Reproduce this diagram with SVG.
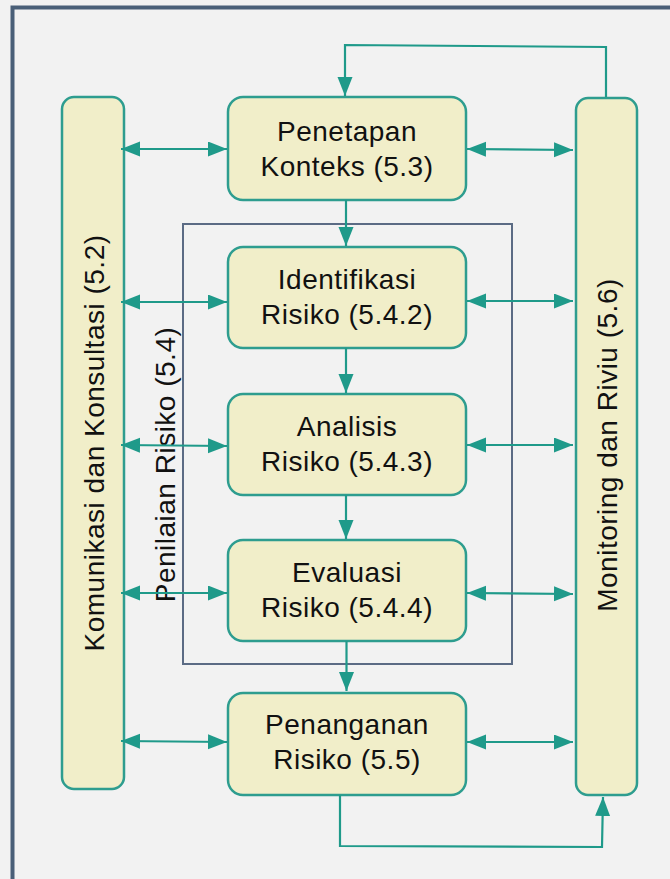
<svg xmlns="http://www.w3.org/2000/svg" width="670" height="879" viewBox="0 0 670 879">
<defs>
<marker id="ah" markerUnits="userSpaceOnUse" markerWidth="20" markerHeight="16" refX="19" refY="7.5" orient="auto-start-reverse" viewBox="0 0 20 16">
<path d="M0,0 L19,7.5 L0,15 z" fill="#1f9a8a"/>
</marker>
</defs>
<style>
.box{fill:#f1eec9;stroke:#2e9d8f;stroke-width:2.5}
.lbl{font-family:"Liberation Sans",Arial,sans-serif;font-size:28px;fill:#111;text-anchor:middle;letter-spacing:0.5px}
.c{fill:none;stroke:#1f9a8a;stroke-width:2.2}
.ca{fill:none;stroke:#1f9a8a;stroke-width:2.2;marker-end:url(#ah)}
.cb{fill:none;stroke:#1f9a8a;stroke-width:2.2;marker-start:url(#ah);marker-end:url(#ah)}
</style>
<rect x="0" y="0" width="670" height="879" fill="#f2f2f2"/>
<path d="M12.5,879 L12.5,7.5 L670,7.5" fill="none" stroke="#4a5f78" stroke-width="4"/>

<g id="penilaian">
<rect x="183" y="224" width="329" height="440" fill="none" stroke="#5b6b84" stroke-width="2"/>
</g>

<g id="komunikasi">
<rect class="box" x="62" y="97" width="62" height="692" rx="12"/>
<text class="lbl" transform="translate(104,443) rotate(-90)">Komunikasi dan Konsultasi (5.2)</text>
</g>

<g id="monitoring">
<rect class="box" x="576" y="98" width="61" height="697" rx="12"/>
<text class="lbl" transform="translate(617,445) rotate(-90)">Monitoring dan Riviu (5.6)</text>
</g>

<g id="penetapan">
<rect class="box" x="228" y="97" width="238" height="103" rx="15"/>
<text class="lbl" x="347" y="141">Penetapan</text>
<text class="lbl" x="347" y="176">Konteks (5.3)</text>
</g>

<g id="identifikasi">
<rect class="box" x="228" y="247" width="238" height="101" rx="15"/>
<text class="lbl" x="347" y="289">Identifikasi</text>
<text class="lbl" x="347" y="324">Risiko (5.4.2)</text>
</g>

<g id="analisis">
<rect class="box" x="228" y="394" width="238" height="101" rx="15"/>
<text class="lbl" x="347" y="436">Analisis</text>
<text class="lbl" x="347" y="471">Risiko (5.4.3)</text>
</g>

<g id="evaluasi">
<rect class="box" x="228" y="540" width="238" height="101" rx="15"/>
<text class="lbl" x="347" y="582">Evaluasi</text>
<text class="lbl" x="347" y="617">Risiko (5.4.4)</text>
</g>

<g id="penanganan">
<rect class="box" x="228" y="693" width="238" height="102" rx="15"/>
<text class="lbl" x="347" y="734">Penanganan</text>
<text class="lbl" x="347" y="769">Risiko (5.5)</text>
</g>

<g id="penilaian-label">
<text class="lbl" transform="translate(175,464.5) rotate(-90)">Penilaian Risiko (5.4)</text>
</g>

<g id="connectors">
<line class="cb" x1="121" y1="149" x2="227" y2="149"/>
<line class="cb" x1="467" y1="149" x2="573" y2="150"/>
<line class="cb" x1="121" y1="302" x2="227" y2="302"/>
<line class="cb" x1="467" y1="301" x2="573" y2="301"/>
<line class="cb" x1="121" y1="445" x2="227" y2="446"/>
<line class="cb" x1="467" y1="445" x2="573" y2="445"/>
<line class="cb" x1="121" y1="593" x2="227" y2="593"/>
<line class="cb" x1="467" y1="593" x2="573" y2="594"/>
<line class="cb" x1="121" y1="741" x2="227" y2="742"/>
<line class="cb" x1="467" y1="742" x2="573" y2="742"/>
<line class="ca" x1="346" y1="200" x2="346" y2="246"/>
<line class="ca" x1="346" y1="348" x2="346" y2="393"/>
<line class="ca" x1="346" y1="495" x2="346" y2="539"/>
<line class="ca" x1="346.5" y1="641" x2="346.5" y2="691"/>
<path class="ca" d="M606,97 L606,47 L345,45 L345,96"/>
<path class="ca" d="M340,795 L340,846 L602,847 L603,797"/>
</g>
</svg>
